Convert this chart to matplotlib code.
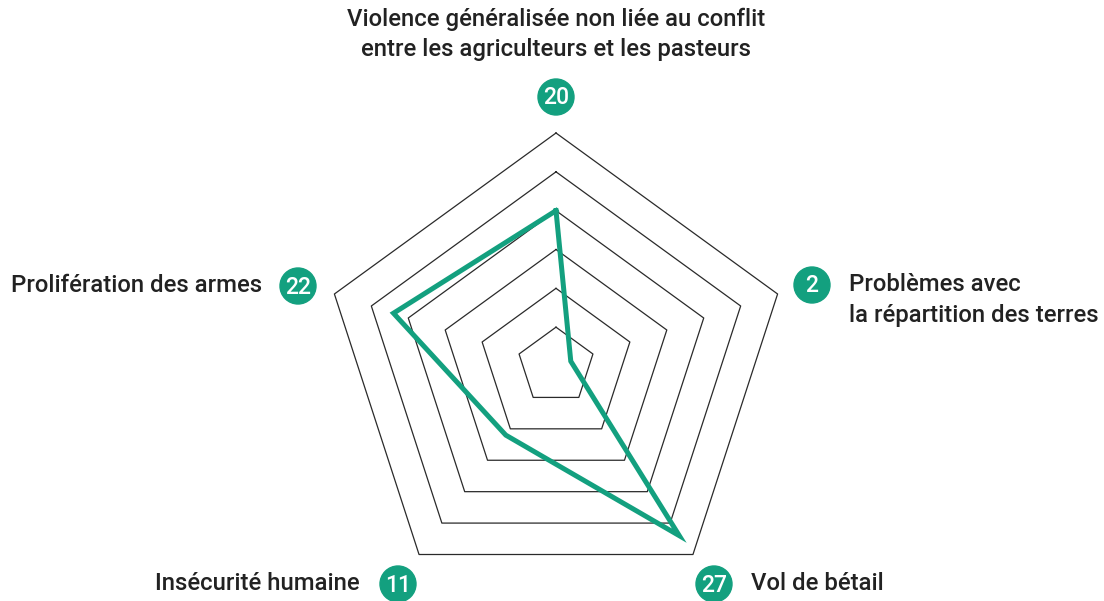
import numpy as np
import matplotlib.pyplot as plt
from matplotlib.patches import Circle

plt.rcParams['font.family'] = ['Roboto', 'DejaVu Sans']

# données
categories = ["Violence généralisée non liée au conflit\nentre les agriculteurs et les pasteurs",
              "Problèmes avec\nla répartition des terres",
              "Vol de bétail",
              "Insécurité humaine",
              "Prolifération des armes"]
values = [20, 2, 27, 11, 22]
grid_levels = [5, 10, 15, 20, 25, 30]

GREEN = "#13a07f"
TEXT = "#222222"

# géométrie (pixels)
cx, cy = 556, 366
rmax = 233
vmax = 30
angles = np.deg2rad(90 - 72 * np.arange(len(values)))


def pts(vals):
    r = np.asarray(vals, dtype=float) / vmax * rmax
    x = cx + r * np.cos(angles)
    y = cy - r * np.sin(angles)
    return np.append(x, x[0]), np.append(y, y[0])


fig = plt.figure(figsize=(11.04, 6.01), dpi=100, facecolor='white')
ax = fig.add_axes([0, 0, 1, 1])
ax.set_xlim(0, 1104)
ax.set_ylim(601, 0)
ax.axis('off')

for lv in grid_levels:
    gx, gy = pts([lv] * len(values))
    ax.plot(gx, gy, color="#2a2a2a", lw=0.9, zorder=1)

dx, dy = pts(values)
ax.plot(dx, dy, color=GREEN, lw=3.6, solid_joinstyle='miter', zorder=3)

# badges + libellés
badges = [(556, 97), (812, 285), (714, 584), (398, 584), (298, 286)]
fs = 17.2
for (bx, by), v in zip(badges, values):
    ax.add_patch(Circle((bx, by), 18, color=GREEN, zorder=4))
    ax.text(bx, by + 1, str(v), color='white', fontsize=16.5, fontweight='medium',
            ha='center', va='center', zorder=5)

ax.text(556, 34, categories[0], ha='center', va='center', fontsize=fs,
        fontweight='medium', color=TEXT, linespacing=1.4)
ax.text(849, 300, categories[1], ha='left', va='center', fontsize=fs,
        fontweight='medium', color=TEXT, linespacing=1.4)
ax.text(751, 584, categories[2], ha='left', va='center', fontsize=fs,
        fontweight='medium', color=TEXT)
ax.text(360, 583, categories[3], ha='right', va='center', fontsize=fs,
        fontweight='medium', color=TEXT)
ax.text(262, 286, categories[4], ha='right', va='center', fontsize=fs,
        fontweight='medium', color=TEXT)

plt.savefig("out.png", dpi=100)
